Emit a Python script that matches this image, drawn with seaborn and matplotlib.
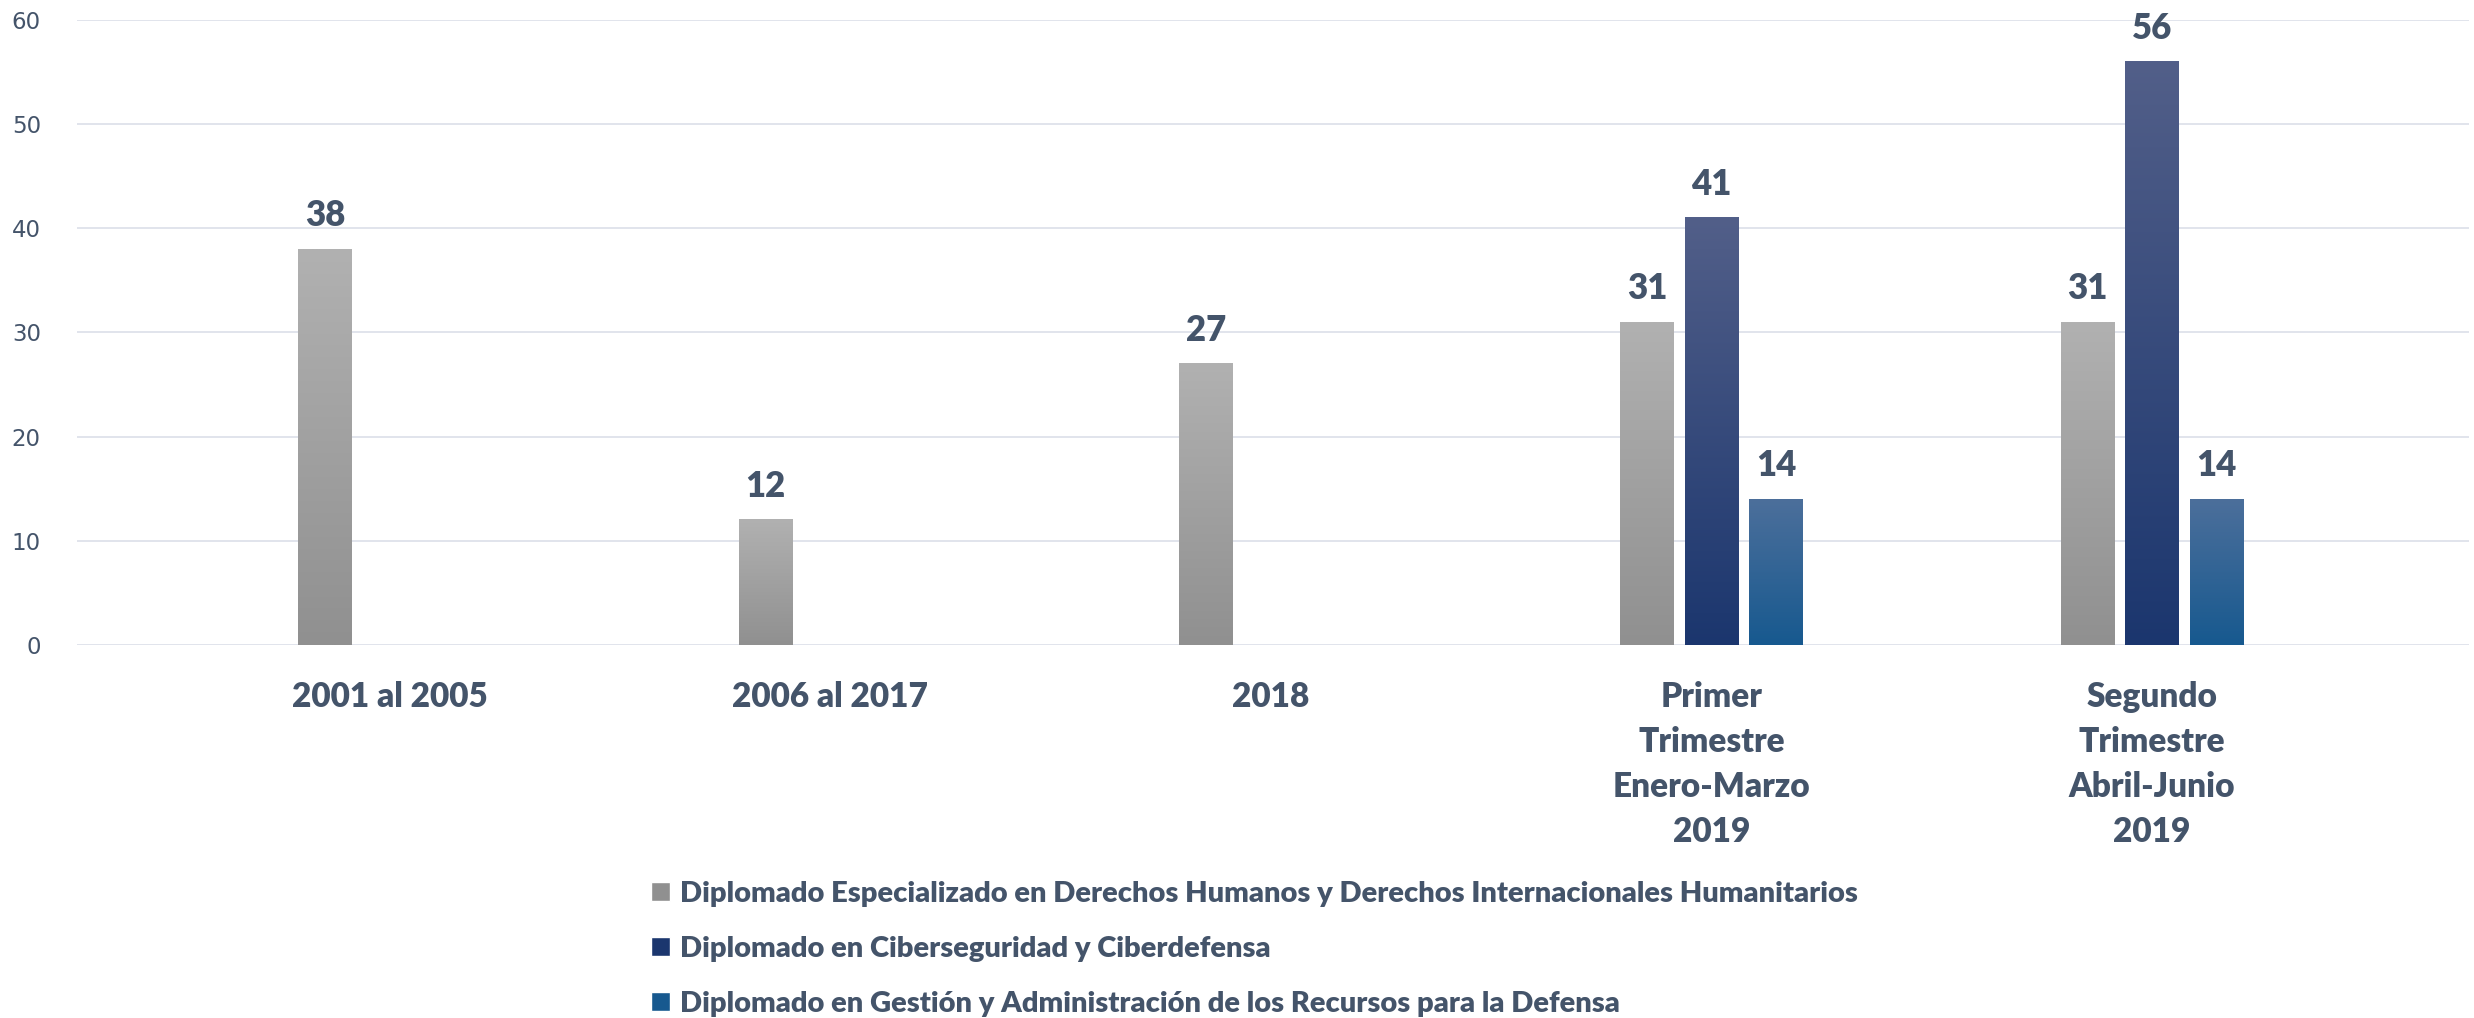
import numpy as np
import pandas as pd
import matplotlib
matplotlib.use("Agg")
import matplotlib.pyplot as plt
import seaborn as sns
from matplotlib.colors import LinearSegmentedColormap
from matplotlib.patches import Patch

# datos
categorias = ["2001 al 2005", "2006 al 2017", "2018",
              "Primer\nTrimestre\nEnero-Marzo\n2019",
              "Segundo\nTrimestre\nAbril-Junio\n2019"]
series = ["Diplomado Especializado en Derechos Humanos y Derechos Internacionales Humanitarios",
          "Diplomado en Ciberseguridad y Ciberdefensa",
          "Diplomado en Gestión y Administración de los Recursos para la Defensa"]
derechos = [38, 12, 27, 31, 31]
ciber = [None, None, None, 41, 56]
gestion = [None, None, None, 14, 14]

# degradados (arriba, abajo)
grad = {series[0]: ("#B1B1B1", "#909090"),
        series[1]: ("#525F89", "#1B366E"),
        series[2]: ("#4C6F9B", "#17598F")}
txt = "#44546A"
peso = 800

rows = []
for s, vals in zip(series, [derechos, ciber, gestion]):
    for c, v in zip(categorias, vals):
        if v is not None:
            rows.append({"cat": c, "serie": s, "valor": v})
df = pd.DataFrame(rows)

sns.set_style("white")
plt.rcParams['font.family'] = ['Lato', 'DejaVu Sans']

fig = plt.figure(figsize=(24.74, 10.18), dpi=100)
ax = fig.add_axes([0.0311, 0.3664, 0.967, 0.614])

sns.barplot(data=df, x="cat", y="valor", hue="serie", order=categorias,
            hue_order=series, width=0.44, gap=0.17, legend=False, ax=ax,
            palette=[grad[s][1] for s in series], saturation=1)

ax.grid(axis="y", color="#DEE2EA", linewidth=1.3)
ax.set_axisbelow(True)
for sp in ax.spines.values():
    sp.set_visible(False)
ax.tick_params(length=0)
ax.set_xlabel("")
ax.set_ylabel("")

# relleno degradado en cada barra
for cont, s in zip(ax.containers, series):
    cmap = LinearSegmentedColormap.from_list(s[:10], [grad[s][1], grad[s][0]])
    for p in cont:
        h = p.get_height()
        if not np.isfinite(h) or h <= 0:
            continue
        x0, w = p.get_x(), p.get_width()
        img = np.linspace(0, 1, 256).reshape(-1, 1)
        ax.imshow(img, extent=[x0, x0 + w, 0, h], origin="lower",
                  aspect="auto", cmap=cmap, zorder=2)
        p.set_visible(False)
    ax.bar_label(cont, padding=12, fontsize=25, fontweight=peso, color=txt)

ax.set_xlim(-0.71, 4.72)
ax.set_ylim(0, 60)
ax.set_yticks(range(0, 61, 10))

for lab in ax.get_yticklabels():
    lab.set_fontfamily("DejaVu Sans")
    lab.set_fontsize(16.5)
    lab.set_color(txt)
ax.tick_params(axis="y", pad=26)
ax.tick_params(axis="x", pad=26)
for lab in ax.get_xticklabels():
    lab.set_fontsize(24)
    lab.set_fontweight(peso)
    lab.set_color(txt)
    lab.set_linespacing(1.5)
    lab.set_multialignment("center")

handles = [Patch(facecolor=grad[s][1]) for s in series]
leg = fig.legend(handles, series, loc="upper left", bbox_to_anchor=(0.263, 0.135),
                 frameon=False, ncol=1, prop={"size": 21, "weight": peso},
                 handlelength=0.65, handleheight=0.65, handletextpad=0.35,
                 labelspacing=1.0, borderpad=0, borderaxespad=0)
for t in leg.get_texts():
    t.set_color(txt)

fig.savefig("out.png", dpi=100)
